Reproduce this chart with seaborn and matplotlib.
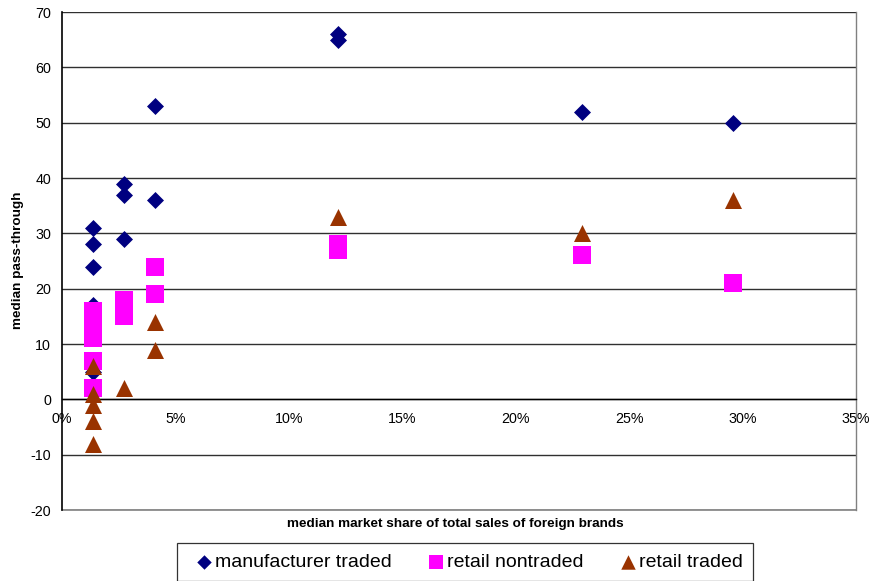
import matplotlib
matplotlib.use("Agg")
import matplotlib.pyplot as plt
import seaborn as sns
import pandas as pd
from matplotlib.ticker import FuncFormatter

# market share (fraction) and pass-through values per series
mfr_x = [0.0137, 0.0137, 0.0137, 0.0137, 0.0137, 0.0272, 0.0272, 0.0272, 0.0408, 0.0408, 0.1215, 0.1215, 0.229, 0.296]
mfr_y = [31, 28, 24, 17, 5, 39, 37, 29, 53, 36, 66, 65, 52, 50]

rn_x = [0.0137, 0.0137, 0.0137, 0.0137, 0.0137, 0.0137, 0.0272, 0.0272, 0.0272, 0.0408, 0.0408, 0.1215, 0.1215, 0.229, 0.296]
rn_y = [16, 14, 12, 11, 7, 2, 18, 17, 15, 24, 19, 28, 27, 26, 21]

rt_x = [0.0137, 0.0137, 0.0137, 0.0137, 0.0137, 0.0272, 0.0408, 0.0408, 0.1215, 0.229, 0.296]
rt_y = [6, 1, -1, -4, -8, 2, 14, 9, 33, 30, 36]

series_names = ["manufacturer traded", "retail nontraded", "retail traded"]
x_ticks = [0, 0.05, 0.10, 0.15, 0.20, 0.25, 0.30, 0.35]
y_ticks = [-20, -10, 0, 10, 20, 30, 40, 50, 60, 70]

sns.set_style("white")
plt.rcParams['font.family'] = ['Liberation Sans', 'DejaVu Sans']
plt.rcParams['axes.unicode_minus'] = False
plt.rcParams['text.color'] = '#000000'
plt.rcParams['xtick.color'] = '#000000'
plt.rcParams['ytick.color'] = '#000000'

fig = plt.figure(figsize=(8.72, 5.81), dpi=100)
ax = fig.add_axes([62/872, 1-510/581, (856-62)/872, (510-12)/581])

df_m = pd.DataFrame({"x": mfr_x, "y": mfr_y})
df_n = pd.DataFrame({"x": rn_x, "y": rn_y})
df_t = pd.DataFrame({"x": rt_x, "y": rt_y})

sns.scatterplot(data=df_m, x="x", y="y", marker="D", s=75, color="#000080",
                linewidth=0, ax=ax, label=series_names[0], zorder=3)
sns.scatterplot(data=df_n, x="x", y="y", marker="s", s=150, color="#FF00FF",
                linewidth=0, ax=ax, label=series_names[1], zorder=3)
sns.scatterplot(data=df_t, x="x", y="y", marker="^", s=150, color="#993300",
                linewidth=0, ax=ax, label=series_names[2], zorder=4)

ax.set_xlim(0, 0.35)
ax.set_ylim(-20, 70)
ax.set_xticks(x_ticks)
ax.set_yticks(y_ticks)
ax.xaxis.set_major_formatter(FuncFormatter(lambda v, p: f"{v*100:.0f}%"))

ax.grid(axis="y", color="#303030", linewidth=1.0)
ax.set_axisbelow(True)
ax.axhline(-20, color="#808080", linewidth=1.2, clip_on=False, zorder=1)

ax.spines["bottom"].set_position(("data", 0))
ax.spines["bottom"].set_color("#000000")
ax.spines["bottom"].set_linewidth(1.0)
ax.spines["left"].set_color("#000000")
ax.spines["left"].set_linewidth(1.2)
ax.spines["top"].set_visible(False)
ax.spines["right"].set_color("#808080")
ax.spines["right"].set_linewidth(1.0)

ax.tick_params(axis="x", direction="out", length=4, width=1, color="#000000",
               labelcolor="#000000", labelsize=10.3, pad=5)
ax.tick_params(axis="y", direction="out", length=4, width=1, color="#000000",
               labelcolor="#000000", labelsize=10.3, pad=4)
ax.set_xlabel("")
ax.set_ylabel("")

fig.text(455/872, 1-524/581, "median market share of total sales of foreign brands",
         ha="center", va="center", fontsize=9.7, fontweight="bold", color="#000000")
fig.text(18/872, 1-260/581, "median pass-through", rotation=90,
         ha="center", va="center", fontsize=9.7, fontweight="bold", color="#000000")

handles, labels = ax.get_legend_handles_labels()
if ax.get_legend():
    ax.get_legend().remove()
leg = fig.legend(handles, labels, loc="center", bbox_to_anchor=(465/872, 1-562/581),
                 ncol=3, frameon=True, fancybox=False, edgecolor="#000000",
                 fontsize=14, handletextpad=-0.3, columnspacing=1.4,
                 handlelength=1.75, borderpad=0.5, markerscale=0.85)
leg.get_frame().set_linewidth(0.9)
for t in leg.get_texts():
    t.set_color("#000000")

fig.savefig("out.png", dpi=100)
